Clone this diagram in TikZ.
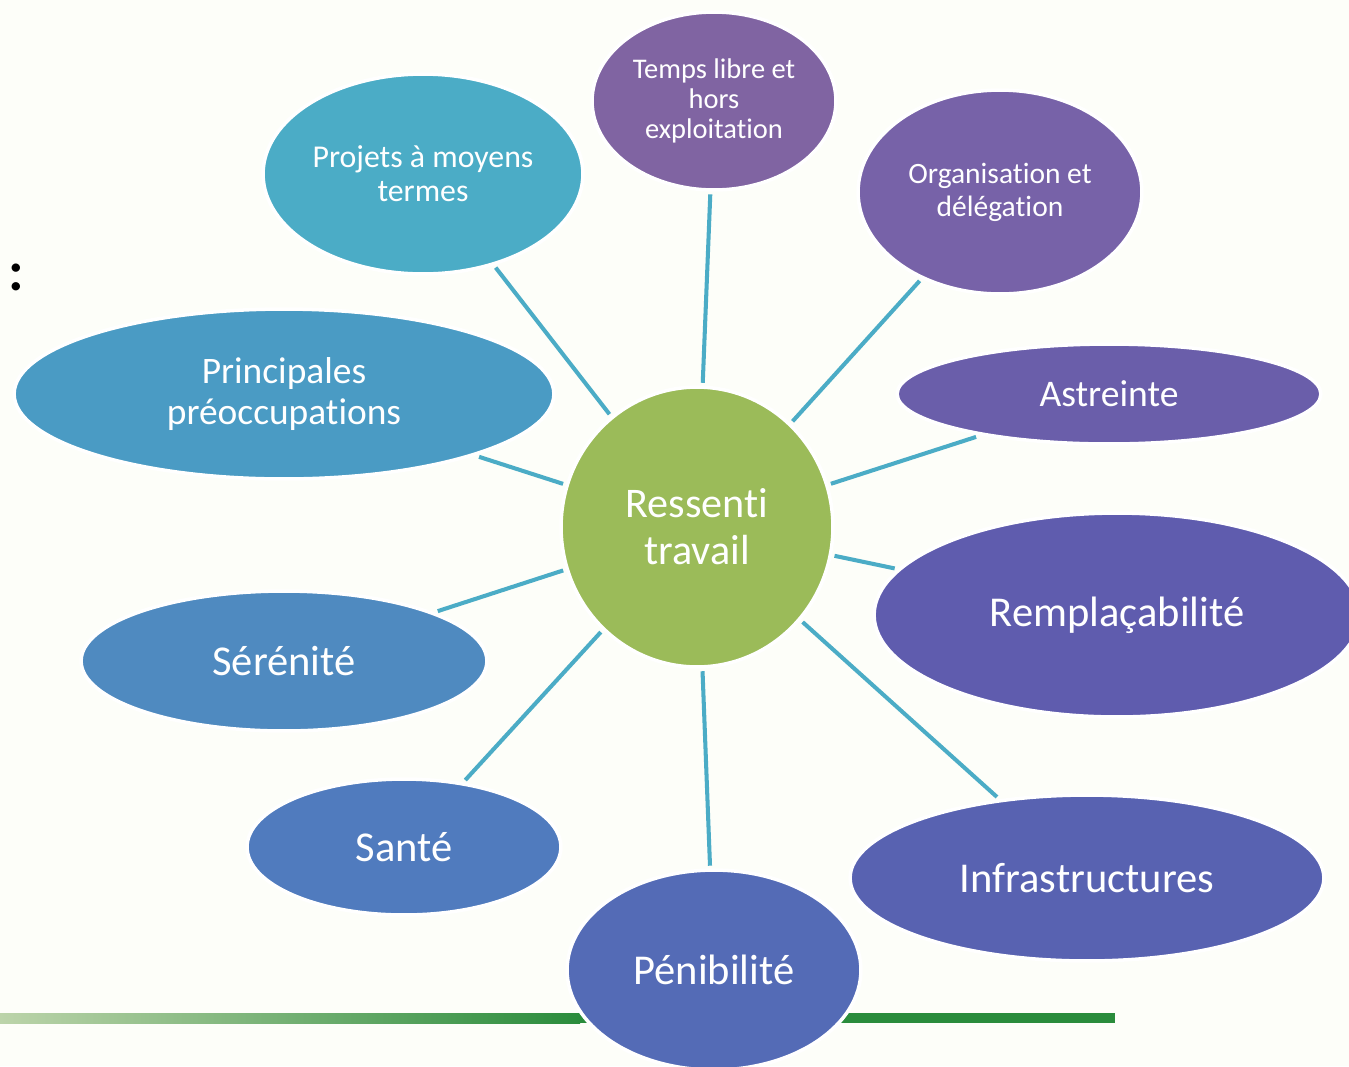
\documentclass[tikz,border=0pt]{standalone}
\usepackage{fontspec}
\setmainfont{Carlito}[Ligatures=NoCommon]
\usetikzlibrary{shapes.geometric}

\definecolor{paper}{HTML}{FDFEF9}
\definecolor{hubgreen}{HTML}{9BBB59}
\definecolor{spokeblue}{HTML}{4BACC6}
\definecolor{barlight}{HTML}{BCD4AA}
\definecolor{bargreen}{HTML}{2A8C3C}
\definecolor{cProjets}{HTML}{4BACC6}
\definecolor{cPrinc}{HTML}{4A9BC4}
\definecolor{cSerenite}{HTML}{4F8AC0}
\definecolor{cSante}{HTML}{507BBE}
\definecolor{cPenib}{HTML}{546BB6}
\definecolor{cInfra}{HTML}{5862B1}
\definecolor{cRempl}{HTML}{5F5CAE}
\definecolor{cAstr}{HTML}{6A5EAA}
\definecolor{cOrga}{HTML}{7762A8}
\definecolor{cTemps}{HTML}{8064A2}

\tikzset{
  bubble/.style={ellipse, draw=white, line width=2pt, outer sep=2.5pt,
    inner sep=0pt, text=white, align=center},
  rad/.style n args={2}{minimum width=#1*0.04cm, minimum height=#2*0.04cm},
  spoke/.style={spokeblue, line width=2.3pt},
}

\begin{document}
\begin{tikzpicture}[x=0.02cm, y=-0.02cm]
\useasboundingbox (0,0) rectangle (1349,1066);
\fill[paper] (0,0) rectangle (1349,1066);
\clip (0,0) rectangle (1349,1066);

% bottom bar
\shade[left color=barlight, right color=bargreen] (0,1013) rectangle (580,1023);
\fill[bargreen] (579,1013) rectangle (1115,1023);

\node[font=\fontsize{32}{36}\selectfont\bfseries] (colon) at (16,277) {:};

% centre
\node[bubble, fill=hubgreen, rad={136}{140},
  font=\fontsize{24}{26.6}\selectfont] (hub) at (697,527) {Ressenti\\travail};

% outer bubbles
\node[bubble, fill=cProjets, rad={160}{100},
  font=\fontsize{18.1}{19.3}\selectfont] (projets) at (423,174) {Projets à moyens\\termes};
\node[bubble, fill=cTemps, rad={122}{89},
  font=\fontsize{16.2}{17.3}\selectfont] (temps) at (714,101) {Temps libre et\\hors\\exploitation};
\node[bubble, fill=cOrga, rad={142}{102},
  font=\fontsize{16.8}{18.7}\selectfont] (orga) at (1000,192) {Organisation et\\délégation};
\node[bubble, fill=cAstr, rad={212}{50},
  font=\fontsize{21.4}{24}\selectfont] (astr) at (1109,394) {Astreinte};
\node[bubble, fill=cRempl, rad={243}{102},
  font=\fontsize{24.2}{28}\selectfont] (rempl) at (1117,615) {Remplaçabilité};
\node[bubble, fill=cInfra, rad={237}{83},
  font=\fontsize{24.2}{28}\selectfont] (infra) at (1087,878) {Infrastructures};
\node[bubble, fill=cPenib, rad={147}{100},
  font=\fontsize{24.2}{28}\selectfont] (penib) at (714,970) {Pénibilité};
\node[bubble, fill=cSante, rad={157}{68},
  font=\fontsize{24.2}{28}\selectfont] (sante) at (404,847) {Santé};
\node[bubble, fill=cSerenite, rad={203}{70},
  font=\fontsize{24.2}{28}\selectfont] (seren) at (284,661) {Sérénité};
\node[bubble, fill=cPrinc, rad={270}{85},
  font=\fontsize{21.3}{23.2}\selectfont] (princ) at (284,394) {Principales\\préoccupations};

% spokes
\foreach \leaf in {projets,temps,orga,astr,rempl,infra,penib,sante,seren,princ}
  \draw[spoke] (hub) -- (\leaf);
\end{tikzpicture}
\end{document}
